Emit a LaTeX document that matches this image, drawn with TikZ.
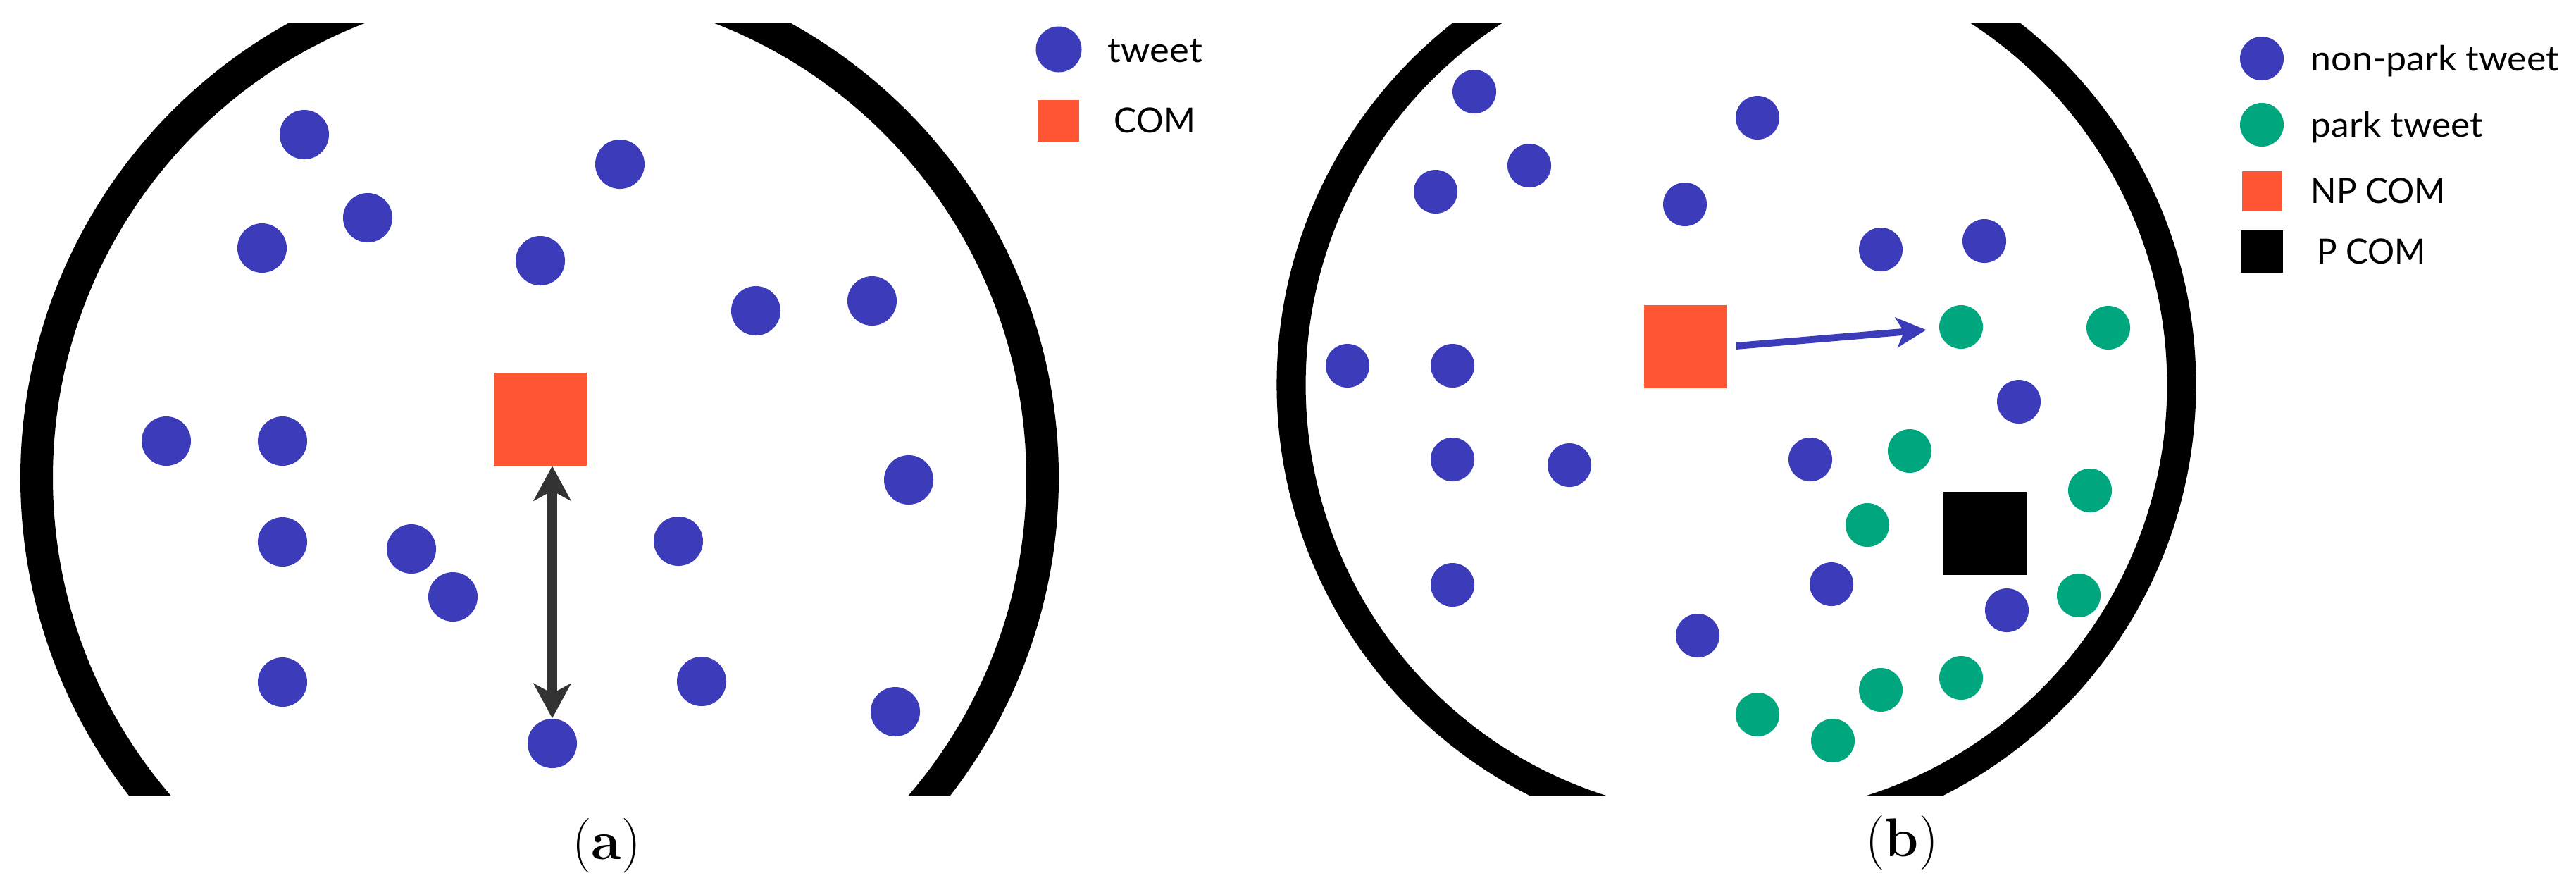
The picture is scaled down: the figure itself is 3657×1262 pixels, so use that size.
\documentclass[tikz,border=0pt]{standalone}
\usepackage{fontspec}
\usepackage{graphicx}
\newfontfamily\legfont{Lato}
\newcommand{\legw}[2]{\resizebox{#1}{\height}{#2}}
\usetikzlibrary{arrows.meta}
\definecolor{tblue}{HTML}{3C3CBB}
\definecolor{tred}{HTML}{FF5533}
\definecolor{tgreen}{HTML}{00A67E}
\definecolor{tgray}{HTML}{333333}
\begin{document}
\begin{tikzpicture}[x=0.01cm,y=-0.01cm,
  dotA/.style={circle,fill=tblue,inner sep=0,minimum size=0.7cm},
  dotB/.style={circle,fill=tblue,inner sep=0,minimum size=0.62cm},
  parkB/.style={dotB,fill=tgreen},
  sqbox/.style={rectangle,inner sep=0,minimum size=#1},
  ring/.style={line width=#1,black},
  legtext/.style={anchor=base west,inner sep=0,font=\legfont\fontsize{14}{16}\selectfont},
  captext/.style={inner sep=0,font=\fontsize{22}{26}\selectfont},
  arrA/.style={tgray,line width=4pt,{Stealth[length=14pt,width=15pt,inset=4pt]}-{Stealth[length=14pt,width=15pt,inset=4pt]}},
  arrB/.style={tblue,line width=2.8pt,-{Stealth[length=12pt,width=12pt,inset=3pt]}}
]
\useasboundingbox (0,0) rectangle (3657,1262);
% rings
\begin{scope}
\clip (0,32) rectangle (3657,1128);
\draw[ring=13.1pt] (766,678) circle[radius=714];
\draw[ring=11.7pt] (2465,546) circle[radius=632];
\end{scope}
% panel (a) tweets
\node[dotA] (a1) at (432,191) {};
\node[dotA] (a2) at (880,233) {};
\node[dotA] (a3) at (522,309) {};
\node[dotA] (a4) at (372,352) {};
\node[dotA] (a5) at (767,370) {};
\node[dotA] (a6) at (1073,441) {};
\node[dotA] (a7) at (1238,427) {};
\node[dotA] (a8) at (236,626) {};
\node[dotA] (a9) at (401,626) {};
\node[dotA] (a10) at (1290,681) {};
\node[dotA] (a11) at (401,769) {};
\node[dotA] (a12) at (584,779) {};
\node[dotA] (a13) at (643,847) {};
\node[dotA] (a14) at (963,768) {};
\node[dotA] (a15) at (401,968) {};
\node[dotA] (a16) at (996,967) {};
\node[dotA] (a17) at (1271,1010) {};
\node[dotA] (a18) at (784,1055) {};
\node[sqbox=1.31cm,fill=tred] (comA) at (767,595) {};
\draw[arrA] (comA.south -| a18.center) -- (a18.north);
% legend (a)
\node[dotA,minimum size=0.65cm] (lgA1) at (1503,70) {};
\node[sqbox=0.59cm,fill=tred] (lgA2) at (1502,171) {};
\node[legtext] (lgA1t) at (1572,88) {\legw{1.34cm}{tweet}};
\node[legtext] (lgA2t) at (1581,188) {\legw{1.15cm}{COM}};
\node[captext] (capA) at (861,1200) {(\textbf{a})};
% panel (b) non-park tweets
\node[dotB] (b1) at (2093,130) {};
\node[dotB] (b2) at (2495,167) {};
\node[dotB] (b3) at (2171,235) {};
\node[dotB] (b4) at (2038,272) {};
\node[dotB] (b5) at (2392,290) {};
\node[dotB] (b6) at (2670,354) {};
\node[dotB] (b7) at (2817,342) {};
\node[dotB] (b8) at (1913,519) {};
\node[dotB] (b9) at (2062,519) {};
\node[dotB] (b10) at (2866,570) {};
\node[dotB] (b11) at (2062,652) {};
\node[dotB] (b12) at (2228,660) {};
\node[dotB] (b13) at (2570,652) {};
\node[dotB] (b14) at (2062,830) {};
\node[dotB] (b15) at (2600,829) {};
\node[dotB] (b16) at (2410,902) {};
\node[dotB] (b17) at (2849,866) {};
% park tweets
\node[parkB] (g1) at (2784,464) {};
\node[parkB] (g2) at (2993,465) {};
\node[parkB] (g3) at (2711,640) {};
\node[parkB] (g4) at (2967,696) {};
\node[parkB] (g5) at (2651,745) {};
\node[parkB] (g6) at (2951,845) {};
\node[parkB] (g7) at (2784,962) {};
\node[parkB] (g8) at (2670,979) {};
\node[parkB] (g9) at (2495,1014) {};
\node[parkB] (g10) at (2602,1051) {};
\node[sqbox=1.18cm,fill=tred] (npcom) at (2393,492) {};
\node[sqbox=1.18cm,fill=black] (pcom) at (2818,757) {};
\draw[arrB,shorten <=3.4pt,shorten >=5.1pt] (npcom.east) -- (g1);
% legend (b)
\node[dotB] (lgB1) at (3211,83) {};
\node[parkB] (lgB2) at (3211,177) {};
\node[sqbox=0.57cm,fill=tred] (lgB3) at (3211,271) {};
\node[sqbox=0.6cm,fill=black] (lgB4) at (3211,357) {};
\node[legtext] (lgB1t) at (3280,100) {\legw{3.52cm}{non-park tweet}};
\node[legtext] (lgB2t) at (3280,194) {\legw{2.44cm}{park tweet}};
\node[legtext] (lgB3t) at (3280,288) {\legw{1.91cm}{NP COM}};
\node[legtext] (lgB4t) at (3289,374) {\legw{1.54cm}{P COM}};
\node[captext] (capB) at (2700,1196) {(\textbf{b})};
\end{tikzpicture}
\end{document}
